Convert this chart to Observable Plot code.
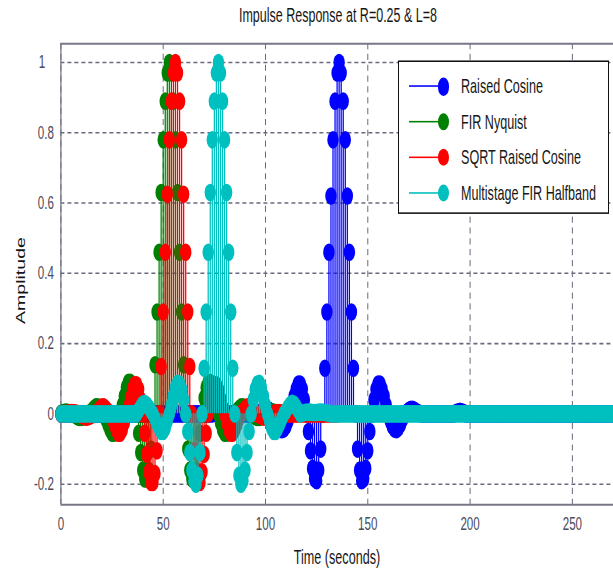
<!DOCTYPE html>
<html>
<head>
<meta charset="utf-8">
<script src="https://cdn.jsdelivr.net/npm/d3@7"></script>
<script src="https://cdn.jsdelivr.net/npm/@observablehq/plot@0.6"></script>
<style>
  html { margin: 0; padding: 0; background: #fff; overflow: hidden; width: 613px; height: 573px; }
  body { margin: 0; padding: 0; background: #fff; width: 613px; height: 573px; }
  #wrap { position: relative; width: 613px; height: 370px; transform: scaleY(1.55); transform-origin: 0 0;
          font-family: "Liberation Sans", Arial, sans-serif; }
  #chart { position: absolute; left: 0; top: 0; }
  .lbl { position: absolute; white-space: nowrap; color: #161616; font-size: 12.6px; line-height: 14px; }
  #legend { position: absolute; left: 398px; top: 38.7px; width: 209px; height: 97px; background: #fff; border: 1px solid #111; }
  .row { position: absolute; left: 0; width: 209px; height: 14px; }
  .row .ln { position: absolute; left: 10px; width: 32px; top: 6.5px; height: 1px; }
  .row .mk { position: absolute; left: 38.6px; top: 1.4px; width: 11.2px; height: 11.2px; border-radius: 50%; }
  .row .tx { position: absolute; left: 62px; top: 0; font-size: 12.6px; line-height: 14px; color: #161616; white-space: nowrap; }
</style>
</head>
<body>
<div id="wrap">
  <div id="chart"></div>
  <div class="lbl" id="title" style="left:188px;width:300px;text-align:center;top:3.3px;font-size:12.5px;">Impulse Response at R=0.25 &amp; L=8</div>
  <div class="lbl" id="xlabel" style="left:237px;width:200px;text-align:center;top:353px;">Time (seconds)</div>
  <div class="lbl" id="ylabel" style="left:21px;top:180.6px;transform:translate(-50%,-50%) rotate(-90deg);">Amplitude</div>
  <div id="legend"></div>
</div>
<script>
// ---------- data (time index = sample number) ----------
const seriesNames = ["Raised Cosine", "FIR Nyquist", "SQRT Raised Cosine", "Multistage FIR Halfband"];
const seriesColors = ["#0000ff", "#008000", "#ff0000", "#00bfbf"];
const xTicks = [0, 50, 100, 150, 200, 250];
const yTicks = [-0.2, 0, 0.2, 0.4, 0.6, 0.8, 1];
const xDomain = [0, 270.1];
const yDomain = [-0.2587, 1.0534];

// Raised Cosine (peak at 136), samples 0..272
const raisedCosine = [
  0,0,0,0,0,0,0,0,0,0,
  0,0,0,0,0,0,0,0,0,0,
  0,0,0,0,0,0,0,0,0,0,
  0,0,0,0,0,0,0,0,0,0,
  0,0,0,0,0,0,0,0,0,0,
  0,0,0,0,0,0,0,0,0,0,
  0,0,0,0,0,0,0,0,0,0,
  0,0,0,0,0,
  0.004,0.006,0.007,0.006,0.004,
  0,0,0,0,0,0,0,0,0,0,
  0,0,0,0,0,0,0,
  0.003,0.006,0.01,0.013,0.013,0.01,0.005,
  0,
  -0.015,-0.03,-0.04,-0.045,-0.043,-0.035,-0.02,
  0,
  0.025,0.05,0.07,0.085,0.085,0.07,0.04,
  0,
  -0.05,-0.105,-0.155,-0.185,-0.19,-0.16,-0.10,
  0,
  0.13,0.29,0.46,0.62,0.78,0.89,0.97,
  1.0,
  0.97,0.89,0.78,0.62,0.46,0.29,0.13,
  0,
  -0.10,-0.16,-0.19,-0.185,-0.155,-0.105,-0.05,
  0,
  0.04,0.07,0.085,0.085,0.07,0.05,0.025,
  0,
  -0.02,-0.035,-0.043,-0.045,-0.04,-0.03,-0.015,
  0,
  0.005,0.01,0.013,0.013,0.01,0.006,0.003,
  0,0,0,0,0,0,0,0,0,0,
  0,0,0,0,0,0,0,
  0.004,0.006,0.007,0.006,0.004,
  0,0,0,0,0,0,0,0,0,0,
  0,0,0,0,0,0,0,0,0,0,
  0,0,0,0,0,0,0,0,0,0,
  0,0,0,0,0,0,0,0,0,0,
  0,0,0,0,0,0,0,0,0,0,
  0,0,0,0,0,0,0,0,0,0,
  0,0,0,0,0,0,0,0,0,0,
  0,0,0,0,0
];

// FIR Nyquist (peak at 53), samples 0..106
const firNyquist = [
  0.002,0.004,0.005,0.005,0.004,0.002,
  0,
  -0.004,-0.008,-0.01,-0.01,-0.008,-0.004,
  0,
  0.003,0.008,0.015,0.02,0.02,0.015,0.008,
  0,
  -0.015,-0.03,-0.045,-0.055,-0.055,-0.045,-0.025,
  0,
  0.025,0.05,0.075,0.09,0.09,0.075,0.045,
  0,
  -0.055,-0.11,-0.16,-0.185,-0.185,-0.16,-0.10,
  0,
  0.14,0.29,0.46,0.63,0.78,0.89,0.97,
  1.0,
  0.97,0.89,0.78,0.63,0.46,0.29,0.14,
  0,
  -0.10,-0.16,-0.185,-0.185,-0.16,-0.11,-0.055,
  0,
  0.045,0.075,0.09,0.09,0.075,0.05,0.025,
  0,
  -0.025,-0.045,-0.055,-0.055,-0.045,-0.03,-0.015,
  0,
  0.008,0.015,0.02,0.02,0.015,0.008,0.003,
  0,
  -0.004,-0.008,-0.01,-0.01,-0.008,-0.004,
  0,
  0.002,0.004,0.005,0.005,0.004,0.002
];

// SQRT Raised Cosine (peak at 56), samples 0..135
const sqrtRaisedCosine = [
  0,0,0,
  0.002,0.003,0.004,0.004,0.003,0.002,
  0,
  -0.004,-0.007,-0.009,-0.009,-0.007,-0.004,
  0,
  0.002,0.008,0.015,0.02,0.02,0.015,0.008,
  0,
  -0.012,-0.03,-0.045,-0.055,-0.055,-0.045,-0.025,
  0,
  0.02,0.045,0.07,0.083,0.083,0.07,0.04,
  0,
  -0.055,-0.115,-0.165,-0.195,-0.195,-0.17,-0.105,
  0,
  0.135,0.29,0.46,0.625,0.78,0.89,0.97,
  1.0,
  0.97,0.89,0.78,0.625,0.46,0.29,0.135,
  0,
  -0.105,-0.17,-0.195,-0.195,-0.165,-0.115,-0.055,
  0,
  0.04,0.07,0.083,0.083,0.07,0.045,0.02,
  0,
  -0.025,-0.045,-0.055,-0.055,-0.045,-0.03,-0.012,
  0,
  0.008,0.015,0.02,0.02,0.015,0.008,0.002,
  0,
  -0.004,-0.007,-0.009,-0.009,-0.007,-0.004,
  0,
  0.002,0.003,0.004,0.004,0.003,0.002,
  0,0,0,0,0,0,0,0,0,0,
  0,0,0,0,0,0,0,0,0,0,
  0,0,0,0,0,0
];

// Multistage FIR Halfband (peak at 77), samples 0..272
const multistageHalfband = [
  0,0,0,0,0,0,0,0,0,0,
  0,0,0,0,0,0,0,0,0,0,
  0,0,0,0,0,0,0,0,0,0,
  0,0,0,0,0,0,0,
  0,
  0.01,0.02,0.028,0.03,0.026,0.018,0.008,
  0,
  -0.014,-0.028,-0.04,-0.05,-0.05,-0.04,-0.02,
  0,
  0.025,0.05,0.075,0.087,0.085,0.07,0.04,
  0,
  -0.05,-0.11,-0.16,-0.19,-0.2,-0.175,-0.11,
  0,
  0.13,0.29,0.46,0.63,0.78,0.89,0.97,
  1.0,
  0.97,0.89,0.78,0.63,0.46,0.29,0.13,
  0,
  -0.11,-0.175,-0.2,-0.19,-0.16,-0.11,-0.05,
  0,
  0.04,0.07,0.085,0.087,0.075,0.05,0.025,
  0,
  -0.02,-0.04,-0.05,-0.05,-0.04,-0.028,-0.014,
  0,
  0.008,0.018,0.026,0.03,0.028,0.02,0.01,
  0,
  0.002,0.004,0.005,0.005,0.005,0.004,0.004,0.004,0.005,0.005,0.005,0.004,0.003,0.002,0,
  0,0,0,0,0,0,0,0,0,0,
  0,0,0,0,0,0,0,0,0,0,
  0,0,0,0,0,0,0,0,0,0,
  0,0,0,0,0,0,0,0,0,0,
  0,0,0,0,0,0,0,0,0,0,
  0,0,0,0,0,0,0,0,0,0,
  0,0,0,0,0,0,0,0,0,0,
  0,0,0,0,0,0,0,0,0,0,
  0,0,0,0,0,0,0,0,0,0,
  0,0,0,0,0,0,0,0,0,0,
  0,0,0,0,0,0,0,0,0,0,
  0,0,0,0,0,0,0,0,0,0,
  0,0,0,0,0,0,0,0,0,0,
  0,0,0,0,0,0,0,0,0,0
];

const seriesValues = [raisedCosine, firNyquist, sqrtRaisedCosine, multistageHalfband];

// ---------- chart ----------
const gridColor = "#6a6a7e";
const frameColor = "#77778a";
const seriesMarks = [];
seriesValues.forEach((vals, i) => {
  const data = vals.map((v, t) => ({t, v}));
  seriesMarks.push(Plot.ruleX(data, {x: "t", y1: 0, y2: "v", stroke: seriesColors[i], strokeWidth: 1.25}));
  seriesMarks.push(Plot.dot(data, {x: "t", y: "v", r: 5.7, fill: seriesColors[i]}));
});

const chart = Plot.plot({
  width: 613,
  height: 370,
  marginLeft: 60.4,
  marginRight: 0,
  marginTop: 27.7,
  marginBottom: 44.8,
  x: {domain: xDomain},
  y: {domain: yDomain},
  style: {fontFamily: "'Liberation Sans', Arial, sans-serif", fontSize: "11.6px", color: "#4a4a5c", background: "transparent", overflow: "visible"},
  marks: [
    Plot.gridX(xTicks, {stroke: gridColor, strokeOpacity: 1, strokeWidth: 1, strokeDasharray: "4,3"}),
    Plot.gridY(yTicks, {stroke: gridColor, strokeOpacity: 1, strokeWidth: 1, strokeDasharray: "4,3"}),
    Plot.ruleX([xDomain[0]], {stroke: frameColor, strokeWidth: 1.3}),
    Plot.ruleY([yDomain[0], yDomain[1]], {stroke: frameColor, strokeWidth: 1.3}),
    Plot.axisX(xTicks, {tickSize: 0, tickPadding: 8, label: null, fontSize: 11.6, tickFormat: d => String(d)}),
    Plot.axisY(yTicks, {tickSize: 0, tickPadding: 7, label: null, fontSize: 11.6, tickFormat: d => d === 1 ? "1\u2007\u2009" : String(d)}),
    ...seriesMarks
  ]
});
document.getElementById("chart").appendChild(chart);

// ---------- legend ----------
const legend = document.getElementById("legend");
seriesNames.forEach((name, i) => {
  const row = document.createElement("div");
  row.className = "row";
  row.style.top = (9.3 + 22.9 * i) + "px";
  row.innerHTML = `<div class="ln" style="background:${seriesColors[i]}"></div>` +
                  `<div class="mk" style="background:${seriesColors[i]}"></div>` +
                  `<div class="tx"></div>`;
  row.querySelector(".tx").textContent = name;
  legend.appendChild(row);
});
</script>
</body>
</html>
